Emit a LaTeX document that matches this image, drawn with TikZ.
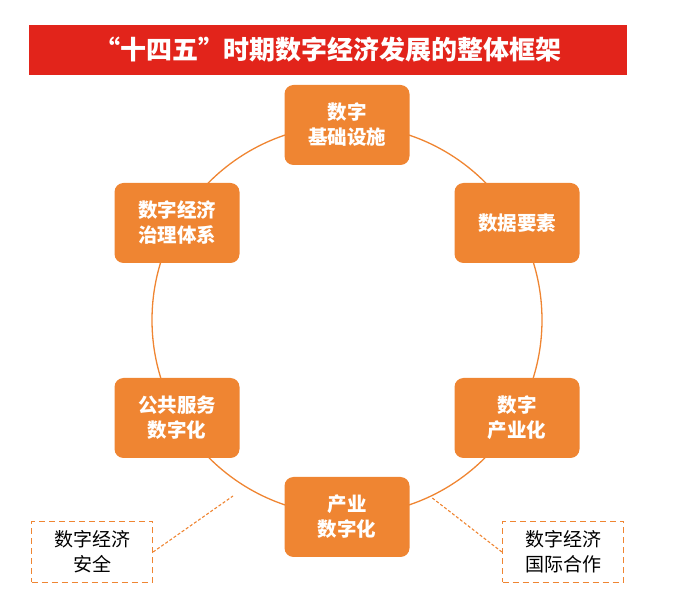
\documentclass[tikz,border=0pt]{standalone}
\usepackage{fontspec}
\newfontfamily\cjk{Noto Sans CJK SC}
\definecolor{titlered}{HTML}{E2241B}
\definecolor{boxorange}{HTML}{EF8532}
\begin{document}
\begin{tikzpicture}[
    x=1pt, y=-1pt,
    part/.style={draw=none, fill=boxorange, rounded corners=9pt, minimum width=125pt,
      minimum height=80pt, align=center, text=white, font=\cjk\bfseries\fontsize{19.5}{25}\selectfont},
    extra/.style={draw=boxorange, dashed, line width=1.2pt, dash pattern=on 6pt off 4pt,
      minimum width=121pt, minimum height=61pt, align=center, font=\cjk\fontsize{19}{25}\selectfont},
    ring/.style={draw=boxorange, line width=1.3pt},
    link/.style={draw=boxorange, line width=1.1pt, dash pattern=on 3pt off 2pt},
  ]
    \useasboundingbox (0,0) rectangle (681,612);
    % title bar
    \node[fill=titlered, minimum width=598pt, minimum height=50pt, text=white,
      font=\cjk\bfseries\fontsize{26}{30}\selectfont] (title) at (328, 50)
      {“十四五”时期数字经济发展的整体框架};

    % ring through the six parts
    \draw[ring] (347, 320) circle (195);

    \node[part] (infra) at (347, 125) {数字\\基础设施};
    \node[part] (data)  at (517, 223) {数据要素};
    \node[part] (indus) at (517, 418) {数字\\产业化};
    \node[part] (digi)  at (347, 517) {产业\\数字化};
    \node[part] (pub)   at (177, 418) {公共服务\\数字化};
    \node[part] (gov)   at (177, 223) {数字经济\\治理体系};

    % dashed side boxes
    \node[extra] (safe) at (92, 552) {数字经济\\安全};
    \node[extra] (coop) at (563, 552) {数字经济\\国际合作};
    \coordinate (safeend) at (233, 496);
    \coordinate (coopend) at (431, 497);
    \draw[link] (safe.east) -- (safeend);
    \draw[link] (coop.west) -- (coopend);
  \end{tikzpicture}
\end{document}
